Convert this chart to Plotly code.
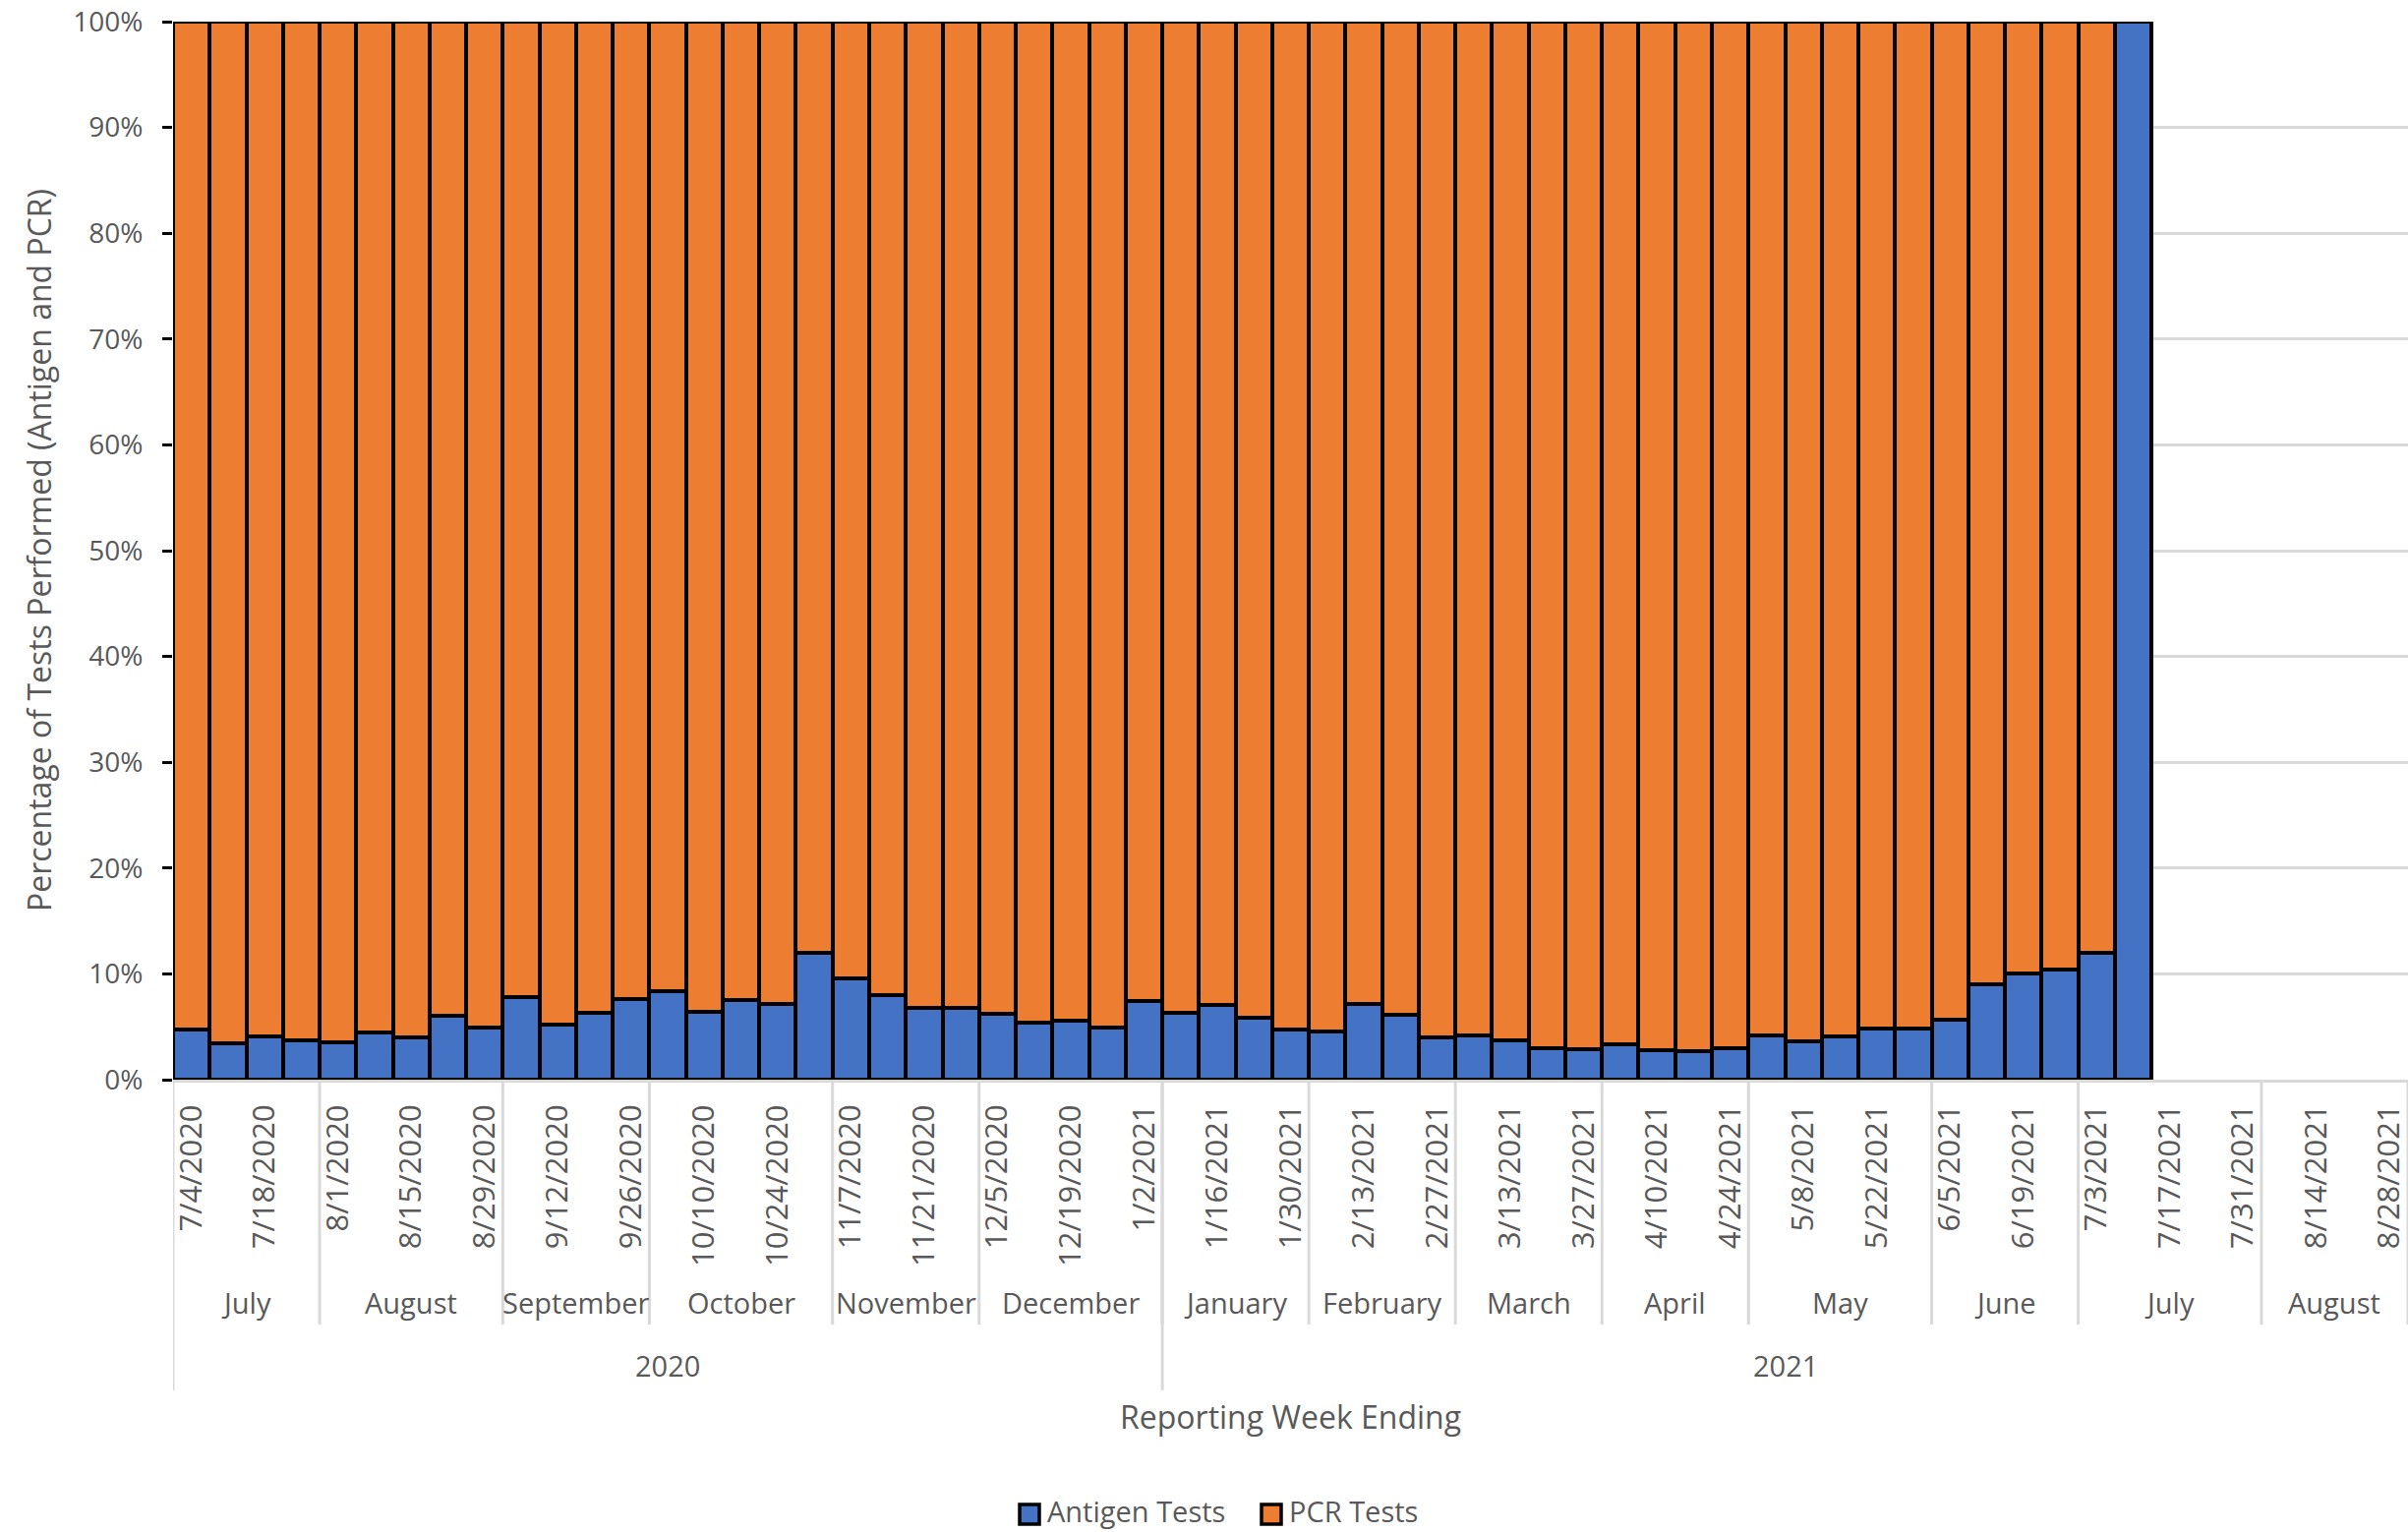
import plotly.graph_objects as go

weeks = [
    "7/4/2020", "7/11/2020", "7/18/2020", "7/25/2020", "8/1/2020", "8/8/2020", "8/15/2020",
    "8/22/2020", "8/29/2020", "9/5/2020", "9/12/2020", "9/19/2020", "9/26/2020", "10/3/2020",
    "10/10/2020", "10/17/2020", "10/24/2020", "10/31/2020", "11/7/2020", "11/14/2020",
    "11/21/2020", "11/28/2020", "12/5/2020", "12/12/2020", "12/19/2020", "12/26/2020",
    "1/2/2021", "1/9/2021", "1/16/2021", "1/23/2021", "1/30/2021", "2/6/2021", "2/13/2021",
    "2/20/2021", "2/27/2021", "3/6/2021", "3/13/2021", "3/20/2021", "3/27/2021", "4/3/2021",
    "4/10/2021", "4/17/2021", "4/24/2021", "5/1/2021", "5/8/2021", "5/15/2021", "5/22/2021",
    "5/29/2021", "6/5/2021", "6/12/2021", "6/19/2021", "6/26/2021", "7/3/2021", "7/10/2021",
    "7/17/2021", "7/24/2021", "7/31/2021", "8/7/2021", "8/14/2021", "8/21/2021", "8/28/2021",
]

antigen_pct = [
    4.7, 3.4, 4.1, 3.7, 3.5, 4.5, 4.0, 6.0, 4.9, 7.8, 5.2, 6.3, 7.6, 8.4, 6.4, 7.5, 7.2, 12.0,
    9.6, 8.0, 6.8, 6.8, 6.2, 5.4, 5.6, 4.9, 7.4, 6.3, 7.1, 5.9, 4.7, 4.6, 7.2, 6.1, 4.0, 4.2,
    3.7, 3.0, 2.9, 3.3, 2.8, 2.7, 3.0, 4.2, 3.6, 4.1, 4.8, 4.8, 5.7, 9.0, 10.0, 10.4, 12.0, 100.0,
]
pcr_pct = [
    95.3, 96.6, 95.9, 96.3, 96.5, 95.5, 96.0, 94.0, 95.1, 92.2, 94.8, 93.7, 92.4, 91.6, 93.6,
    92.5, 92.8, 88.0, 90.4, 92.0, 93.2, 93.2, 93.8, 94.6, 94.4, 95.1, 92.6, 93.7, 92.9, 94.1,
    95.3, 95.4, 92.8, 93.9, 96.0, 95.8, 96.3, 97.0, 97.1, 96.7, 97.2, 97.3, 97.0, 95.8, 96.4,
    95.9, 95.2, 95.2, 94.3, 91.0, 90.0, 89.6, 88.0, 0.0,
]

month_names = ["July", "August", "September", "October", "November", "December",
               "January", "February", "March", "April", "May", "June", "July", "August"]
month_counts = [4, 5, 4, 5, 4, 5, 4, 4, 4, 4, 5, 4, 5, 4]
year_names = ["2020", "2021"]
year_counts = [27, 34]
y_ticks = [0, 10, 20, 30, 40, 50, 60, 70, 80, 90, 100]
series_names = ["Antigen Tests", "PCR Tests"]

BLUE = "#4472C4"
ORANGE = "#ED7D31"
GRID = "#D9D9D9"
TXT = "#595959"
FONT = "Open Sans"

W, H = 2449, 1558
ML, MR, MT, MB = 176, 0, 22, 460
plot_h = H - MT - MB
plot_w = W - ML - MR


def py(px_y):
    """convert pixel y (from top) to paper y"""
    return (H - MB - px_y) / plot_h


def pxx(px_x):
    return (px_x - ML) / plot_w


n = len(antigen_pct)
xs = list(range(n))

fig = go.Figure()
fig.add_trace(go.Bar(x=xs, y=antigen_pct, name=series_names[0], width=1, showlegend=False,
                     marker=dict(color=BLUE, line=dict(color="black", width=4))))
fig.add_trace(go.Bar(x=xs, y=pcr_pct, name=series_names[1], width=1, showlegend=False,
                     marker=dict(color=ORANGE, line=dict(color="black", width=4))))

shapes = []
annotations = []

# month groups
pos = 0
for name, cnt in zip(month_names, month_counts):
    start, end = pos - 0.5, pos + cnt - 0.5
    annotations.append(dict(x=(start + end) / 2, y=py(1324), xref="x", yref="paper",
                            text=name, showarrow=False, xanchor="center", yanchor="middle",
                            font=dict(family=FONT, size=29, color=TXT)))
    shapes.append(dict(type="line", xref="x", yref="paper", x0=end, x1=end,
                       y0=0, y1=py(1347), line=dict(color=GRID, width=3)))
    pos += cnt

# year groups
pos = 0
for name, cnt in zip(year_names, year_counts):
    start, end = pos - 0.5, pos + cnt - 0.5
    annotations.append(dict(x=(start + end) / 2, y=py(1388), xref="x", yref="paper",
                            text=name, showarrow=False, xanchor="center", yanchor="middle",
                            font=dict(family=FONT, size=29, color=TXT)))
    shapes.append(dict(type="line", xref="x", yref="paper", x0=start, x1=start,
                       y0=0, y1=py(1414), line=dict(color=GRID, width=3)))
    pos += cnt

annotations.append(dict(x=0.5, y=py(1440), xref="paper", yref="paper",
                        text="Reporting Week Ending", showarrow=False,
                        xanchor="center", yanchor="middle",
                        font=dict(family=FONT, size=32, color=TXT)))
annotations.append(dict(x=pxx(39), y=0.5, xref="paper", yref="paper",
                        text="Percentage of Tests Performed (Antigen and PCR)",
                        textangle=-90, showarrow=False, xanchor="center", yanchor="middle",
                        font=dict(family=FONT, size=32, color=TXT)))

# manual legend
legend_items = [(series_names[0], BLUE, 1037), (series_names[1], ORANGE, 1283)]
for label, col, x_px in legend_items:
    shapes.append(dict(type="rect", xref="paper", yref="paper",
                       x0=pxx(x_px), x1=pxx(x_px + 20), y0=py(1550), y1=py(1530),
                       fillcolor=col, line=dict(color="black", width=3.5)))
    annotations.append(dict(x=pxx(x_px + 27), y=py(1536), xref="paper", yref="paper",
                            text=label, showarrow=False, xanchor="left", yanchor="middle",
                            borderpad=0,
                            font=dict(family=FONT, size=29, color=TXT)))

fig.update_layout(
    width=W, height=H,
    margin=dict(l=ML, r=MR, t=MT, b=MB, pad=0),
    barmode="stack", bargap=0,
    plot_bgcolor="white", paper_bgcolor="white",
    shapes=shapes, annotations=annotations,
    showlegend=False,
    xaxis=dict(range=[-0.5, len(weeks) - 0.5], tickmode="array",
               tickvals=list(range(0, len(weeks), 2)), ticktext=weeks[::2],
               tickangle=-90, ticks="", ticklabelstandoff=10, ticklabeloverflow="allow",
               tickfont=dict(family=FONT, size=31, color=TXT),
               showgrid=False, zeroline=False, showline=True, linecolor=GRID, linewidth=3),
    yaxis=dict(range=[0, 100], tickmode="array", tickvals=y_ticks,
               ticktext=[f"{v}%" for v in y_ticks],
               ticks="outside", ticklen=10, tickwidth=3, tickcolor="black",
               ticklabelstandoff=14,
               tickfont=dict(family=FONT, size=28, color=TXT),
               showgrid=True, gridcolor=GRID, gridwidth=3, zeroline=False, showline=False),
    font=dict(family=FONT, color=TXT),
)

fig.write_html("out.html", config={"displayModeBar": False},
               post_script="document.body.style.margin='0';document.body.style.overflow='hidden';")
